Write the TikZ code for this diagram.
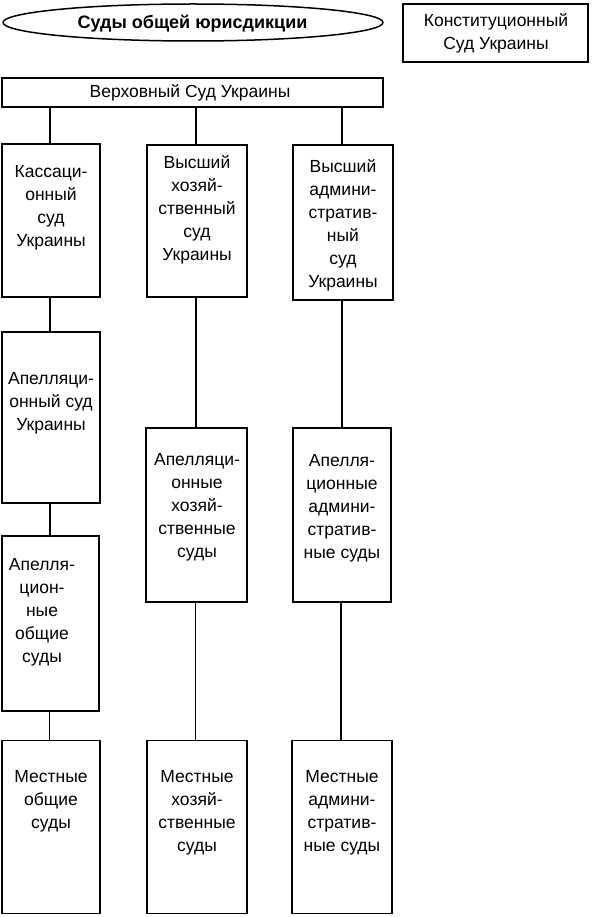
\documentclass[tikz,border=0pt]{standalone}
\usepackage{fontspec}
\setmainfont{Liberation Sans}
\usetikzlibrary{shapes.geometric}
\tikzset{
  box/.style={draw, line width=1.5pt, inner sep=0pt},
  lbl/.style={align=center, inner sep=0pt, font=\fontsize{17.5}{23}\selectfont},
  conn/.style={line width=1.5pt}
}
\begin{document}
\begin{tikzpicture}[x=1pt,y=-1pt]
\useasboundingbox (0,0) rectangle (593,917);
% top
\node[ellipse, draw, line width=1.5pt, minimum width=380pt, minimum height=37pt, inner sep=0pt] (ell) at (193,22.5) {};
\node[lbl, font=\fontsize{18}{23}\selectfont\bfseries] (ellt) at (192.5,23.5) {Суды общей юрисдикции};
\node[box, minimum width=185pt, minimum height=58pt] (konst) at (495.5,33) {};
\node[lbl] (konstt) at (496,33) {Конституционный\\Суд Украины};
\node[box, minimum width=381pt, minimum height=29pt] (verh) at (192.5,92.5) {};
\node[lbl] (verht) at (190,92.5) {Верховный Суд Украины};
% column 1
\node[box, minimum width=98pt, minimum height=153pt] (k1) at (51,220.5) {};
\node[lbl] (k1t) at (51,208) {Кассаци-\\онный\\суд\\Украины};
\node[box, minimum width=98pt, minimum height=171pt] (a1) at (51,417.5) {};
\node[lbl] (a1t) at (51,403) {Апелляци-\\онный суд\\Украины};
\node[box, minimum width=97pt, minimum height=175pt] (b1) at (50.5,623.5) {};
\node[lbl] (b1t) at (42,612) {Апелля-\\цион-\\ные\\общие\\суды};
\node[box, minimum width=98pt, minimum height=173pt] (m1) at (51,827) {};
\node[lbl] (m1t) at (51,801) {Местные\\общие\\суды};
% column 2
\node[box, minimum width=100pt, minimum height=152pt] (k2) at (197,221) {};
\node[lbl] (k2t) at (197,210) {Высший\\хозяй-\\ственный\\суд\\Украины};
\node[box, minimum width=101pt, minimum height=174pt] (a2) at (196.5,515) {};
\node[lbl] (a2t) at (197,507) {Апелляци-\\онные\\хозяй-\\ственные\\суды};
\node[box, minimum width=100pt, minimum height=173pt] (m2) at (197,827) {};
\node[lbl] (m2t) at (197,813) {Местные\\хозяй-\\ственные\\суды};
% column 3
\node[box, minimum width=100pt, minimum height=155pt] (k3) at (343,222.5) {};
\node[lbl] (k3t) at (343,225) {Высший\\админи-\\стратив-\\ный\\суд\\Украины};
\node[box, minimum width=98pt, minimum height=174pt] (a3) at (342,515) {};
\node[lbl] (a3t) at (342,508) {Апелля-\\ционные\\админи-\\стратив-\\ные суды};
\node[box, minimum width=100pt, minimum height=173pt] (m3) at (342,827) {};
\node[lbl] (m3t) at (342,813) {Местные\\админи-\\стратив-\\ные суды};
% connectors
\draw[conn] (verh.south -| k1.north) ++(-1,0) coordinate (v1) -- (v1 |- k1.north);
\draw[conn] (verh.south -| k2.north) ++(-1,0) coordinate (v2) -- (v2 |- k2.north);
\draw[conn] (verh.south -| k3.north) ++(-1,0) coordinate (v3) -- (v3 |- k3.north);
\draw[conn] (k1.south) ++(-1,0) coordinate (c1) -- (c1 |- a1.north);
\draw[conn] (a1.south) ++(-1,0) coordinate (c2) -- (c2 |- b1.north);
\draw[conn] (b1.south) ++(-1,0) coordinate (c3) -- (c3 |- m1.north);
\draw[conn] (k2.south) ++(-1,0) coordinate (c4) -- (c4 |- a2.north);
\draw[conn] (a2.south) ++(-1,0) coordinate (c5) -- (c5 |- m2.north);
\draw[conn] (k3.south) ++(-1,0) coordinate (c6) -- (c6 |- a3.north);
\draw[conn] (a3.south) ++(-1,0) coordinate (c7) -- (c7 |- m3.north);
\end{tikzpicture}
\end{document}
